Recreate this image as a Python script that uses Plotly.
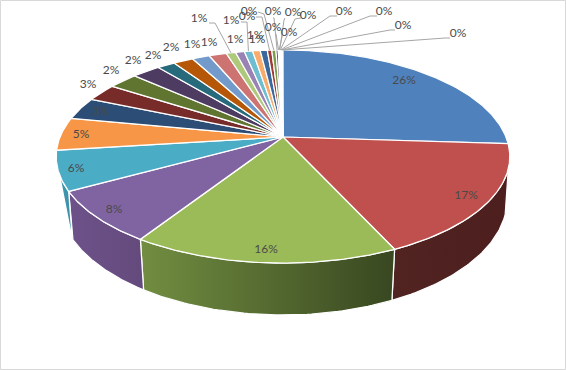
import numpy as np
import plotly.graph_objects as go

# ---- data -------------------------------------------------------------
values = [26, 17.15, 15.95, 7.9, 6, 5, 3.4, 2.7, 2.49, 2.4, 1.5, 1.7, 1.49, 1.49, 0.8, 0.75,
          0.7, 0.65, 0.6, 0.38, 0.35, 0.2, 0.05, 0.05, 0.05, 0.05, 0.05, 0.05, 0.05, 0.05]
colors = ["#4f81bd", "#c0504d", "#9bbb59", "#8064a2", "#4bacc6", "#f79646",
          "#2c4d75", "#772c2a", "#5f7530", "#4d3b62", "#276a7c", "#b65708",
          "#729aca", "#cd7371", "#afc97a", "#9983b5", "#6fbdd1", "#f9ab6b",
          "#3a679c", "#9e3b38", "#7e9a48", "#664f83", "#358ca3", "#cb7a32",
          "#95b3d7", "#d99694", "#c3d69b", "#b2a2c7", "#92cddc", "#fac090"]
side_gradients = {1: ("#512321", "#4c1f1e"), 2: ("#728e41", "#384720"),
                  3: ("#6c5289", "#644a7c"), 4: ("#3f97b0", "#3f90a8")}
# label centres in the picture, in slice order
label_xy = [(404, 81), (466, 196), (266, 250), (114, 210), (76, 169), (81, 135),
            (100, 112), (88, 85), (111, 71), (133, 61), (153, 56), (171, 48),
            (192, 45), (209, 43), (199, 19), (235, 40), (231, 21), (255, 36), (257, 40),
            (247, 17), (249, 12), (273, 12), (273, 28), (289, 33), (293, 13),
            (308, 16), (344, 12), (384, 12), (403, 26), (458, 34)]
# leader line: slice index -> (line start, elbow)
leaders = {14: ((209, 23), (215, 23)), 16: ((241, 22), (247, 22)),
           19: ((256, 17), (262, 17)), 20: ((258, 12), (264, 14)),
           21: ((273, 18), (274, 18)), 22: ((275, 34), (276, 34)),
           23: ((282, 36), (282, 37)), 24: ((285, 18), (284, 20)),
           25: ((301, 18), (295, 19)), 26: ((337, 16), (330, 16)),
           27: ((377, 16), (370, 16)), 28: ((395, 30), (390, 30)),
           29: ((450, 38), (445, 38))}

# ---- projection of the tilted pie --------------------------------------
CX, CY, A, B, K = 283, 137, 223, 103, 0.183
DROP, SB, KB, BB = 43, 0.99, 0.17, 112
TOP_RIGHT, TOP_LEFT, BOT_LEFT = 107, 250, 241.5


def top_rim(t):
    r = np.radians(t)
    d = 1 + K * np.cos(r)
    return CX + A * np.sin(r) / d, CY - B * np.cos(r) / d


def bottom_rim(t):
    r = np.radians(t)
    d = 1 + KB * np.cos(r)
    return CX + SB * A * np.sin(r) / d, CY + DROP - BB * np.cos(r) / d


total = sum(values)
edges = np.concatenate([[0], np.cumsum(values)]) * 360 / total
fig = go.Figure()

# side walls
for i, (c0, c1) in side_gradients.items():
    a, b = edges[i], edges[i + 1]
    ta = np.linspace(max(a, TOP_RIGHT), min(b, TOP_LEFT), 60)
    tb = np.linspace(max(a, TOP_RIGHT), min(b, BOT_LEFT), 60)
    x1, y1 = top_rim(ta)
    x2, y2 = bottom_rim(tb[::-1])
    fig.add_trace(go.Scatter(
        x=np.r_[x1, x2, x1[0]], y=np.r_[y1, y2, y1[0]], mode="lines", fill="toself",
        line=dict(color="white", width=1.25), hoverinfo="skip",
        fillgradient=dict(type="horizontal", colorscale=[[0, c0], [1, c1]])))

# top faces
for i, c in enumerate(colors):
    t = np.linspace(edges[i], edges[i + 1], max(3, int(edges[i + 1] - edges[i]) * 2))
    x, y = top_rim(t)
    fig.add_trace(go.Scatter(
        x=np.r_[CX, x, CX], y=np.r_[CY, y, CY], mode="lines", fill="toself", fillcolor=c,
        line=dict(color="white", width=1.25), hoverinfo="skip"))

# leader lines
for i, (start, elbow) in leaders.items():
    rx, ry = top_rim((edges[i] + edges[i + 1]) / 2)
    fig.add_trace(go.Scatter(
        x=[start[0], elbow[0], rx], y=[start[1], elbow[1], ry], mode="lines",
        line=dict(color="#a6a6a6", width=1), hoverinfo="skip"))

# labels
fig.add_trace(go.Scatter(
    x=[p[0] for p in label_xy], y=[p[1] for p in label_xy], mode="text",
    text=[f"{int(v + 0.5)}%" for v in values],
    textfont=dict(family="Lato", size=12, color="#4a4a4a"), hoverinfo="skip"))

fig.add_shape(type="rect", x0=0.5, y0=0.5, x1=565.5, y1=369.5,
              line=dict(color="#d9d9d9", width=1))
fig.update_layout(
    width=566, height=370, margin=dict(l=0, r=0, t=0, b=0), showlegend=False,
    paper_bgcolor="white", plot_bgcolor="white",
    xaxis=dict(range=[0, 566], visible=False, fixedrange=True),
    yaxis=dict(range=[370, 0], visible=False, fixedrange=True))
fig.write_html("out.html", config={"displayModeBar": False},
               post_script="document.body.style.margin='0';document.body.style.overflow='hidden';")
